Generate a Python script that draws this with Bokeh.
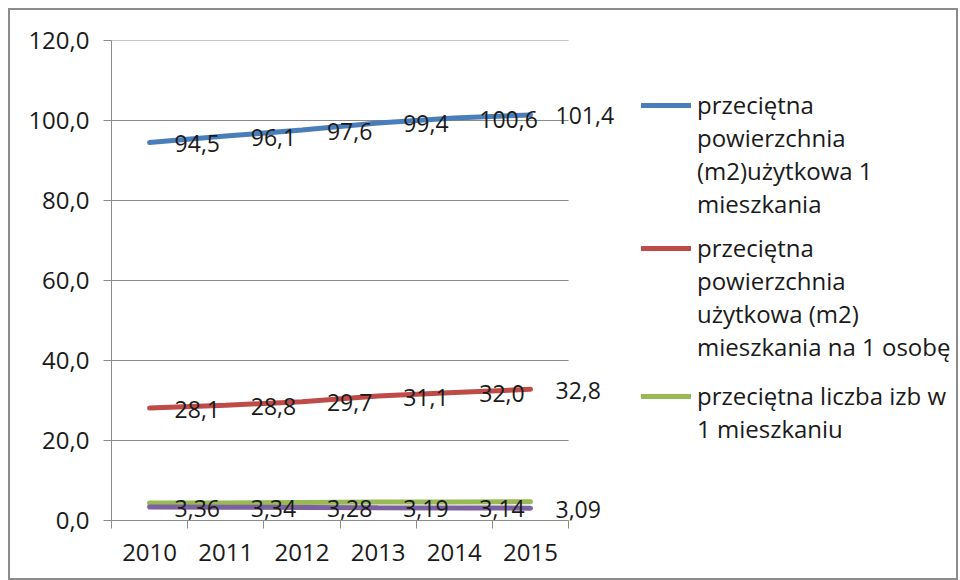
import numpy as np
from bokeh.plotting import figure
from bokeh.models import (Range1d, FixedTicker, ColumnDataSource, LabelSet,
                          Legend, LegendItem)
from bokeh.core.properties import value
from bokeh.embed import file_html
from bokeh.resources import INLINE

# ---- data ----
years = ["2010", "2011", "2012", "2013", "2014", "2015"]
area_per_dwelling = [94.5, 96.1, 97.6, 99.4, 100.6, 101.4]
area_per_person = [28.1, 28.8, 29.7, 31.1, 32.0, 32.8]
rooms_per_dwelling = [4.4, 4.4, 4.5, 4.6, 4.6, 4.7]
persons_per_dwelling = [3.36, 3.34, 3.28, 3.19, 3.14, 3.09]
y_ticks = [0, 20, 40, 60, 80, 100, 120]
legend_blue = ["przeciętna", "powierzchnia", "(m2)użytkowa 1", "mieszkania"]
legend_red = ["przeciętna", "powierzchnia", "użytkowa (m2)", "mieszkania na 1 osobę"]
legend_green = ["przeciętna liczba izb w", "1 mieszkaniu"]

FONT = "Open Sans"
FS = "24px"
FS_LBL = "23px"
TXT = "#1a1a1a"
GRID = "#8a8a8a"
BLUE, RED, GREEN, PURPLE = "#4a7ebb", "#be4b48", "#98b954", "#7d60a0"

W, H = 950, 572
BL, BR, BT, BB = 101, 8, 30, 62
CAT_PX = 76.0
frame_w = W - BL - BR - 2
x_end = frame_w / CAT_PX

xpos = [i + 0.5 for i in range(len(years))]

p = figure(width=W, height=H, output_backend="svg", toolbar_location=None,
           x_range=Range1d(0, x_end), y_range=Range1d(0, 120),
           min_border_left=BL, min_border_right=BR, min_border_top=BT,
           min_border_bottom=BB)
p.outline_line_color = None
p.background_fill_color = "white"
p.border_fill_color = "white"
p.styles = {"border": "2px solid #8c8c8c", "margin-left": "8px", "margin-top": "8px"}

# axes
p.xaxis.ticker = FixedTicker(ticks=xpos, minor_ticks=list(range(len(years) + 1)))
p.xaxis.major_label_overrides = {x: y for x, y in zip(xpos, years)}
p.xaxis.bounds = (0, len(years))
p.xaxis.major_tick_out = 0
p.xaxis.major_tick_in = 0
p.xaxis.minor_tick_out = 8
p.xaxis.minor_tick_in = 0
p.xaxis.minor_tick_line_color = GRID
p.xaxis.major_label_standoff = 15

p.yaxis.ticker = FixedTicker(ticks=y_ticks, minor_ticks=[])
p.yaxis.major_label_overrides = {v: f"{v:.1f}".replace(".", ",") for v in y_ticks}
p.yaxis.major_tick_out = 8
p.yaxis.major_tick_in = 0
p.yaxis.major_label_standoff = 14

for ax in (p.xaxis, p.yaxis):
    ax.axis_line_color = GRID
    ax.major_tick_line_color = GRID
    ax.major_label_text_font = FONT
    ax.major_label_text_font_size = FS
    ax.major_label_text_color = TXT

p.xgrid.visible = False
p.ygrid.visible = False
# horizontal gridlines limited to the category area
p.segment(x0=[0] * len(y_ticks), x1=[len(years)] * len(y_ticks), y0=y_ticks, y1=y_ticks,
          line_color=GRID, line_width=1)

# lines
series = [
    (area_per_dwelling, BLUE, 1),
    (area_per_person, RED, 1),
    (rooms_per_dwelling, GREEN, None),
    (persons_per_dwelling, PURPLE, 2),
]
renderers = []
for vals, col, dec in series:
    r = p.line(xpos, vals, line_width=5, line_color=col, line_cap="round")
    renderers.append(r)
    if dec is not None:
        src = ColumnDataSource(dict(x=xpos, y=vals,
                                    t=[f"{v:.{dec}f}".replace(".", ",") for v in vals]))
        p.add_layout(LabelSet(x="x", y="y", text="t", source=src, x_offset=25,
                              y_offset=-1, text_align="left", text_baseline="middle",
                              text_font=value(FONT), text_font_size=value(FS_LBL),
                              text_color=TXT))

dummy = p.line(x=[], y=[], line_alpha=0)

def make_legend(lines, rend, loc):
    items = [LegendItem(label=lines[0], renderers=[rend])]
    items += [LegendItem(label=t, renderers=[dummy]) for t in lines[1:]]
    lg = Legend(items=items, location=loc, glyph_width=50, glyph_height=20,
                label_height=33, label_standoff=6, spacing=0, padding=0, margin=0,
                border_line_color=None, background_fill_alpha=0,
                label_text_font=FONT, label_text_font_size=FS,
                label_text_color=TXT)
    p.add_layout(lg)

make_legend(legend_blue, renderers[0], (530, 300))
make_legend(legend_red, renderers[1], (530, 157))
make_legend(legend_green, renderers[2], (530, 75))

open("out.html", "w").write(file_html(p, INLINE))
